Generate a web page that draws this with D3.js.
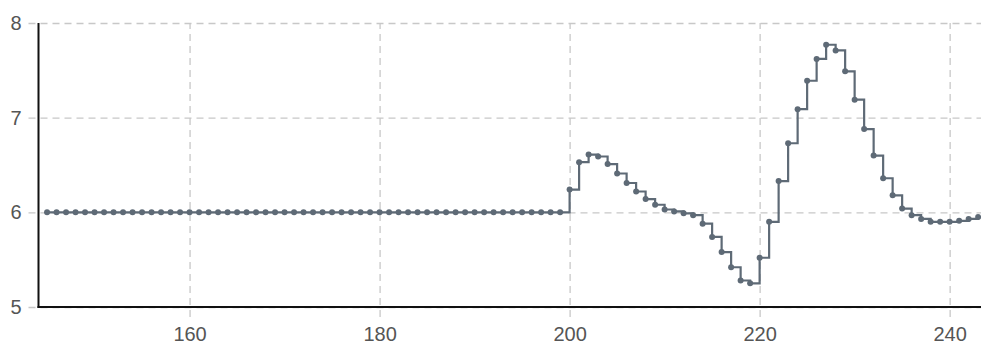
<!DOCTYPE html>
<html><head><meta charset="utf-8">
<script src="https://cdn.jsdelivr.net/npm/d3@7"></script>
<style>body{margin:0;background:#fff}svg{display:block}</style>
</head><body>
<svg id="c" width="981" height="347"></svg>
<script>
const xValues = [145,146,147,148,149,150,151,152,153,154,155,156,157,158,159,160,161,162,163,164,165,166,167,168,169,170,171,172,173,174,175,176,177,178,179,180,181,182,183,184,185,186,187,188,189,190,191,192,193,194,195,196,197,198,199,
200,201,202,203,204,205,206,207,208,209,210,211,212,213,214,215,216,217,218,219,220,221,222,223,224,225,226,227,228,229,230,231,232,233,234,235,236,237,238,239,240,241,242,243];
const yValues = [6,6,6,6,6,6,6,6,6,6,6,6,6,6,6,6,6,6,6,6,6,6,6,6,6,6,6,6,6,6,6,6,6,6,6,6,6,6,6,6,6,6,6,6,6,6,6,6,6,6,6,6,6,6,6,
6.24,6.53,6.61,6.59,6.51,6.41,6.31,6.22,6.14,6.08,6.03,6.01,5.99,5.97,5.88,5.74,5.58,5.42,5.28,5.25,5.52,5.90,6.33,6.73,7.09,7.39,7.62,7.77,7.71,7.49,7.19,6.88,6.60,6.36,6.18,6.04,5.97,5.93,5.90,5.90,5.90,5.91,5.93,5.95];
const xTicks = [160,180,200,220,240];
const yTicks = [5,6,7,8];
const xDomain = [144.1, 243.3];
const yDomain = [5, 8];

const data = xValues.map((x,i)=>({x, y:yValues[i]}));
const W = 981, H = 347;
const m = {left:38.5, right:0, top:23, bottom:40};
const svg = d3.select("#c");
const x = d3.scaleLinear().domain(xDomain).range([m.left, W - m.right]);
const y = d3.scaleLinear().domain(yDomain).range([H - m.bottom, m.top]);
const font = "'Liberation Sans', Arial, sans-serif";

// grid + ticks
const yAxis = d3.axisLeft(y).tickValues(yTicks).tickSize(-(W - m.left)).tickPadding(17).tickFormat(d3.format("d"));
const gy = svg.append("g").attr("transform", `translate(${m.left},0)`).call(yAxis);
gy.select(".domain").remove();
gy.selectAll(".tick line").attr("x1", -10).attr("stroke", "#c8c8c8").attr("stroke-width", 1.3).attr("stroke-dasharray", "7,5");
gy.selectAll(".tick text").attr("font-family", font).attr("font-size", 20).attr("fill", "#555").attr("x", -17);

const xAxis = d3.axisBottom(x).tickValues(xTicks).tickSize(-(H - m.bottom - m.top)).tickPadding(22).tickFormat(d3.format("d"));
const gx = svg.append("g").attr("transform", `translate(0,${H - m.bottom})`).call(xAxis);
gx.select(".domain").remove();
gx.selectAll(".tick line").attr("y1", 10).attr("stroke", "#c8c8c8").attr("stroke-width", 1.3).attr("stroke-dasharray", "7,5");
gx.selectAll(".tick text").attr("font-family", font).attr("font-size", 20).attr("fill", "#555").attr("y", 20);

// axis lines
svg.append("line").attr("x1", m.left).attr("x2", m.left).attr("y1", y(8)).attr("y2", y(5)+1).attr("stroke", "#111").attr("stroke-width", 2);
svg.append("line").attr("x1", m.left-1).attr("x2", W).attr("y1", y(5)).attr("y2", y(5)).attr("stroke", "#111").attr("stroke-width", 2);

// line
const color = "#5e6a76";
svg.append("clipPath").attr("id","clip").append("rect").attr("x", m.left+1).attr("y", 0).attr("width", W).attr("height", y(5)-1);
const line = d3.line().x(d=>x(d.x)).y(d=>y(d.y)).curve(d3.curveStepAfter);
svg.append("path").datum(data).attr("d", line).attr("fill","none").attr("stroke", color).attr("stroke-width", 2.2).attr("clip-path","url(#clip)");
svg.append("g").selectAll("circle").data(data).join("circle")
  .attr("cx", d=>x(d.x)).attr("cy", d=>y(d.y)).attr("r", 3).attr("fill", color);
</script>
</body></html>
